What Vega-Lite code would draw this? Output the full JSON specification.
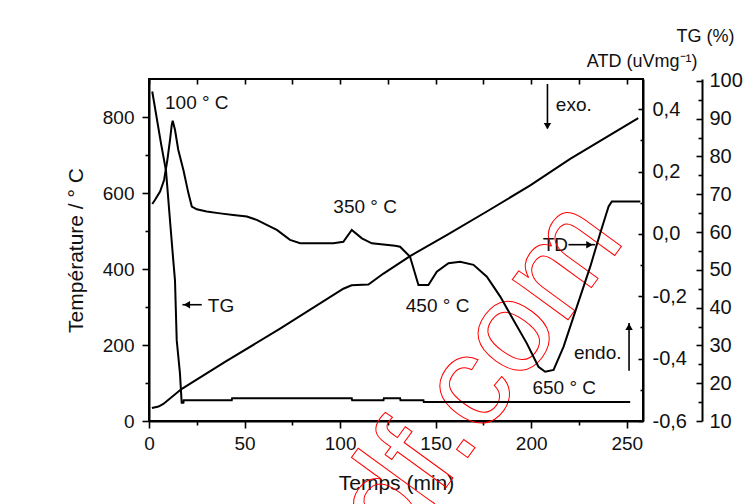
{
  "$schema": "https://vega.github.io/schema/vega-lite/v6.json",
  "width": 494,
  "height": 342,
  "autosize": {"type": "none"},
  "padding": {"left": 149, "top": 79, "right": 106, "bottom": 83},
  "background": "white",
  "datasets": {
    "temp": [
      {"t": 1.5, "T": 34}, {"t": 5, "T": 38}, {"t": 7.5, "T": 45}, {"t": 17, "T": 84},
      {"t": 40, "T": 156}, {"t": 68.6, "T": 243}, {"t": 101.7, "T": 348}, {"t": 106, "T": 357},
      {"t": 114.8, "T": 359}, {"t": 122.7, "T": 388}, {"t": 136.6, "T": 434}, {"t": 156, "T": 490},
      {"t": 177, "T": 552}, {"t": 199.5, "T": 620}, {"t": 220.4, "T": 690}, {"t": 256, "T": 797}
    ],
    "atd": [
      {"t": 1.7, "A": 0.096}, {"t": 3.1, "A": 0.109}, {"t": 5.8, "A": 0.136}, {"t": 7.9, "A": 0.173},
      {"t": 9.6, "A": 0.237}, {"t": 11.0, "A": 0.302}, {"t": 11.9, "A": 0.35}, {"t": 12.4, "A": 0.363},
      {"t": 13.6, "A": 0.334}, {"t": 15.3, "A": 0.27}, {"t": 18.0, "A": 0.205}, {"t": 20.6, "A": 0.131},
      {"t": 22.4, "A": 0.088}, {"t": 25.0, "A": 0.079}, {"t": 30.2, "A": 0.072}, {"t": 37.2, "A": 0.066},
      {"t": 44.1, "A": 0.061}, {"t": 51.2, "A": 0.056}, {"t": 56.4, "A": 0.045}, {"t": 61.6, "A": 0.029},
      {"t": 66.9, "A": 0.013}, {"t": 73.8, "A": -0.019}, {"t": 79.1, "A": -0.03}, {"t": 96.5, "A": -0.03},
      {"t": 101.7, "A": -0.025}, {"t": 106.1, "A": 0.013}, {"t": 111.4, "A": -0.014}, {"t": 116.6, "A": -0.03},
      {"t": 128.8, "A": -0.038}, {"t": 131.4, "A": -0.041}, {"t": 136.6, "A": -0.073}, {"t": 141.0, "A": -0.164},
      {"t": 146.2, "A": -0.164}, {"t": 150.6, "A": -0.121}, {"t": 156.7, "A": -0.094}, {"t": 162.8, "A": -0.089},
      {"t": 169.8, "A": -0.099}, {"t": 176.8, "A": -0.137}, {"t": 183.8, "A": -0.201}, {"t": 190.7, "A": -0.276},
      {"t": 197.7, "A": -0.351}, {"t": 203.8, "A": -0.426}, {"t": 207.3, "A": -0.442}, {"t": 211.7, "A": -0.436},
      {"t": 216.9, "A": -0.362}, {"t": 223.9, "A": -0.233}, {"t": 230.9, "A": -0.105}, {"t": 236.1, "A": 0.002},
      {"t": 240.5, "A": 0.088}, {"t": 242.2, "A": 0.104}, {"t": 257.1, "A": 0.104}
    ],
    "tg": [
      {"t": 1.7, "TG": 97.2}, {"t": 6.3, "TG": 83.4}, {"t": 8.9, "TG": 76.2}, {"t": 11.0, "TG": 63.0},
      {"t": 12.7, "TG": 52.5}, {"t": 13.6, "TG": 47.2}, {"t": 14.5, "TG": 31.4}, {"t": 16.2, "TG": 22.6},
      {"t": 17.1, "TG": 14.8}, {"t": 18.0, "TG": 14.8}, {"t": 18.2, "TG": 15.5}, {"t": 43.3, "TG": 15.5},
      {"t": 43.5, "TG": 16.0}, {"t": 106.1, "TG": 16.0}, {"t": 106.3, "TG": 15.5}, {"t": 122.7, "TG": 15.5},
      {"t": 122.9, "TG": 16.0}, {"t": 131.4, "TG": 16.0}, {"t": 131.6, "TG": 15.5}, {"t": 143.6, "TG": 15.5},
      {"t": 143.8, "TG": 15.0}, {"t": 251.8, "TG": 15.0}
    ],
    "notes": [
      {"t": 25.0, "T": 837, "text": "100 ° C"},
      {"t": 113.1, "T": 564, "text": "350 ° C"},
      {"t": 151, "T": 302, "text": "450 ° C"},
      {"t": 217.3, "T": 88, "text": "650 ° C"},
      {"t": 212.6, "T": 463, "text": "TD"},
      {"t": 37.7, "T": 303, "text": "TG"},
      {"t": 222.3, "T": 831, "text": "exo."},
      {"t": 234.8, "T": 180, "text": "endo."}
    ],
    "watermark": [
      {"t": 178.7, "T": -14.5, "text": "pdf.com"}
    ],
    "arrows": [
      {"t": 17.5, "t2": 27.6, "T": 306, "T2": 306},
      {"t": 219.5, "t2": 233.5, "T": 464, "T2": 464},
      {"t": 208.5, "t2": 208.5, "T": 887, "T2": 770},
      {"t": 251.2, "t2": 251.2, "T": 132, "T2": 258}
    ],
    "heads": [
      {"t": 19.8, "T": 306, "dir": "left"},
      {"t": 230.5, "T": 464, "dir": "right"},
      {"t": 208.5, "T": 776, "dir": "down"},
      {"t": 251.2, "T": 248, "dir": "up"}
    ]
  },
  "layer": [
    {
      "data": {"name": "temp"},
      "mark": {"type": "line", "color": "black", "strokeWidth": 2},
      "encoding": {
        "x": {"field": "t", "type": "quantitative", "scale": {"domain": [0, 258.5], "nice": false, "zero": false},
          "axis": {"orient": "bottom", "values": [0, 50, 100, 150, 200, 250], "tickSize": 7, "labelPadding": 6, "title": "Temps (min)", "titlePadding": 19}},
        "y": {"field": "T", "type": "quantitative", "scale": {"domain": [0, 900], "nice": false, "zero": false},
          "axis": {"orient": "left", "values": [0, 200, 400, 600, 800], "tickSize": 7, "labelPadding": 8, "title": "Température / ° C", "titlePadding": 16}}
      }
    },
    {
      "data": {"name": "notes"},
      "mark": {"type": "text", "font": "Liberation Sans", "fontSize": 19, "color": "#111", "align": "center", "baseline": "middle"},
      "encoding": {
        "x": {"field": "t", "type": "quantitative", "scale": {"domain": [0, 258.5], "nice": false, "zero": false},
          "axis": {"orient": "top", "values": [0, 25, 50, 75, 100, 125, 150, 175, 200, 225, 250], "tickSize": -5, "labels": false, "domain": false, "title": null}},
        "y": {"field": "T", "type": "quantitative", "scale": {"domain": [0, 900], "nice": false, "zero": false},
          "axis": {"orient": "left", "values": [100, 300, 500, 700], "tickSize": 4, "labels": false, "domain": false, "title": null}},
        "text": {"field": "text"}
      }
    },
    {
      "data": {"name": "watermark"},
      "mark": {"type": "text", "font": "Liberation Sans", "fontSize": 130, "angle": -54, "align": "center", "baseline": "alphabetic",
        "fill": "transparent", "stroke": "#ff0000", "strokeWidth": 1},
      "encoding": {
        "x": {"field": "t", "type": "quantitative", "scale": {"domain": [0, 258.5], "nice": false, "zero": false}, "axis": null},
        "y": {"field": "T", "type": "quantitative", "scale": {"domain": [0, 900], "nice": false, "zero": false}, "axis": null},
        "text": {"field": "text"}
      }
    },
    {
      "data": {"name": "arrows"},
      "mark": {"type": "rule", "color": "black", "strokeWidth": 1.6},
      "encoding": {
        "x": {"field": "t", "type": "quantitative", "scale": {"domain": [0, 258.5], "nice": false, "zero": false},
          "axis": {"orient": "bottom", "values": [25, 75, 125, 175, 225], "tickSize": 4, "labels": false, "domain": false, "title": null}},
        "x2": {"field": "t2"},
        "y": {"field": "T", "type": "quantitative", "scale": {"domain": [0, 900], "nice": false, "zero": false}, "axis": null},
        "y2": {"field": "T2"}
      }
    },
    {
      "data": {"name": "heads"},
      "mark": {"type": "point", "filled": true, "color": "black", "opacity": 1, "size": 55},
      "encoding": {
        "x": {"field": "t", "type": "quantitative", "scale": {"domain": [0, 258.5], "nice": false, "zero": false}, "axis": null},
        "y": {"field": "T", "type": "quantitative", "scale": {"domain": [0, 900], "nice": false, "zero": false}, "axis": null},
        "shape": {"field": "dir", "type": "nominal", "legend": null,
          "scale": {"domain": ["left", "right", "up", "down"], "range": ["triangle-left", "triangle-right", "triangle-up", "triangle-down"]}}
      }
    },
    {
      "data": {"name": "atd"},
      "mark": {"type": "line", "color": "black", "strokeWidth": 2},
      "encoding": {
        "x": {"field": "t", "type": "quantitative", "scale": {"domain": [0, 258.5], "nice": false, "zero": false}, "axis": null},
        "y": {"field": "A", "type": "quantitative", "scale": {"domain": [-0.6, 0.497], "nice": false, "zero": false},
          "axis": {"orient": "right", "values": [-0.6, -0.4, -0.2, 0, 0.2, 0.4], "tickSize": -5, "labelPadding": 14,
            "labelExpr": "abs(datum.value) < 1e-9 ? '0,0' : (datum.value < 0 ? '-' : '') + replace(format(abs(datum.value), '.1f'), '.', ',')",
            "labelFontSize": 20,
            "title": "ATD (uVmg⁻¹)", "titleAngle": 0, "titleX": 54, "titleY": -13, "titleAlign": "right", "titleBaseline": "alphabetic", "titleFontSize": 18}}
      }
    },
    {
      "data": {"name": "atd"},
      "mark": {"type": "line", "color": "black", "opacity": 0},
      "encoding": {
        "x": {"field": "t", "type": "quantitative", "scale": {"domain": [0, 258.5], "nice": false, "zero": false}, "axis": null},
        "y": {"field": "A", "type": "quantitative", "scale": {"domain": [-0.6, 0.497], "nice": false, "zero": false},
          "axis": {"orient": "right", "values": [-0.5, -0.3, -0.1, 0.1, 0.3], "tickSize": -3, "labels": false, "domain": false, "title": null}}
      }
    },
    {
      "data": {"name": "tg"},
      "mark": {"type": "line", "color": "black", "strokeWidth": 2},
      "encoding": {
        "x": {"field": "t", "type": "quantitative", "scale": {"domain": [0, 258.5], "nice": false, "zero": false}, "axis": null},
        "y": {"field": "TG", "type": "quantitative", "scale": {"domain": [10, 100.5], "nice": false, "zero": false},
          "axis": {"orient": "right", "offset": 59, "values": [10, 20, 30, 40, 50, 60, 70, 80, 90, 100], "tickSize": -6, "labelPadding": 13,
            "labelFontSize": 20,
            "title": "TG (%)", "titleAngle": 0, "titleX": 32, "titleY": -38, "titleAlign": "right", "titleBaseline": "alphabetic", "titleFontSize": 18}}
      }
    },
    {
      "data": {"name": "tg"},
      "mark": {"type": "line", "color": "black", "opacity": 0},
      "encoding": {
        "x": {"field": "t", "type": "quantitative", "scale": {"domain": [0, 258.5], "nice": false, "zero": false}, "axis": null},
        "y": {"field": "TG", "type": "quantitative", "scale": {"domain": [10, 100.5], "nice": false, "zero": false},
          "axis": {"orient": "right", "offset": 59, "values": [15, 25, 35, 45, 55, 65, 75, 85, 95], "tickSize": -4, "labels": false, "domain": false, "title": null}}
      }
    }
  ],
  "resolve": {
    "scale": {"y": "independent", "shape": "independent"},
    "axis": {"x": "independent", "y": "independent"}
  },
  "config": {
    "view": {"stroke": "black", "strokeWidth": 2},
    "axis": {
      "labelFont": "Liberation Sans", "titleFont": "Liberation Sans",
      "labelFontSize": 19, "titleFontSize": 21, "titleFontWeight": "normal",
      "labelColor": "#111", "titleColor": "#111",
      "tickColor": "black", "domainColor": "black", "tickWidth": 1.6, "domainWidth": 2,
      "grid": false, "labelOverlap": false, "labelFlush": false
    }
  }
}
